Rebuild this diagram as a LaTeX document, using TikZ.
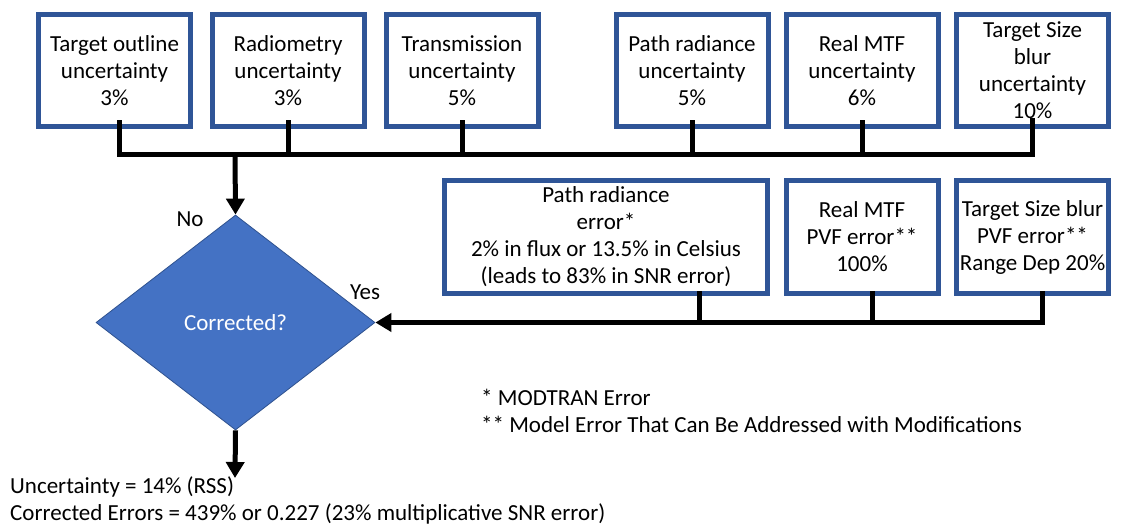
\documentclass[tikz,border=0pt]{standalone}
\usepackage{fontspec}
\setmainfont{Carlito}
\usetikzlibrary{shapes.geometric, arrows.meta}
\definecolor{boxborder}{RGB}{47, 85, 151}
\definecolor{decfill}{RGB}{68, 114, 196}
\definecolor{decborder}{RGB}{47, 82, 143}

\begin{document}
\begin{tikzpicture}[x=1pt, y=-1pt,
    every node/.style={font=\fontsize{23}{27}\selectfont},
    ubox/.style={draw=boxborder, line width=5pt, fill=white, align=center,
        minimum width=152pt, minimum height=112pt, inner sep=0pt},
    bus/.style={line width=5pt},
    arr/.style={line width=5pt, -{Triangle[width=18pt, length=16pt]}},
    plain/.style={anchor=west, inner sep=0pt}]
    \useasboundingbox (0,0) rectangle (1126,531);

    % Uncertainty boxes
    \node[ubox] (t1) at (114.5,70.5) {Target outline\\uncertainty\\3\%};
    \node[ubox] (t2) at (288,70.5) {Radiometry\\uncertainty\\3\%};
    \node[ubox] (t3) at (462,70.5) {Transmission\\uncertainty\\5\%};
    \node[ubox] (t4) at (692,70.5) {Path radiance\\uncertainty\\5\%};
    \node[ubox] (t5) at (862,70.5) {Real MTF\\uncertainty\\6\%};
    \node[ubox] (t6) at (1032.5,70.5) {Target Size\\blur\\uncertainty\\10\%};

    % Error boxes
    \node[ubox, minimum width=323pt, minimum height=113pt] (e1) at (606,237)
        {Path radiance\\error*\\2\% in flux or 13.5\% in Celsius\\(leads to 83\% in SNR error)};
    \node[ubox, minimum height=113pt] (e2) at (862,237) {Real MTF\\PVF error**\\100\%};
    \node[ubox, minimum height=113pt] (e3) at (1032.5,237) {Target Size blur\\PVF error**\\Range Dep 20\%};

    % Decision
    \node[diamond, fill=decfill, draw=decborder, line width=0.8pt, text=white,
        minimum width=279pt, minimum height=215pt, inner sep=0pt] (dec) at (235.5,322.5) {Corrected?};
    \node (no) at (190,219) {No};
    \node (yes) at (365,292) {Yes};

    % Top bus into the decision
    \coordinate (top) at (235,154);
    \draw[bus] ([xshift=5pt, yshift=9pt]t1.south) |- (top) -| ([yshift=11pt]t6.south);
    \foreach \b in {t2,t3,t4,t5}
        \draw[bus] ([yshift=9pt]\b.south) -- (\b.south |- top);
    \draw[arr] (top) -- (dec.north);

    % Error bus into the decision
    \draw[arr] ([xshift=10pt, yshift=5pt]e3.south) |- (dec.east);
    \draw[bus] ([xshift=93pt, yshift=5pt]e1.south) -- ([xshift=93pt]e1.south |- dec.east);
    \draw[bus] ([xshift=10pt, yshift=5pt]e2.south) -- ([xshift=10pt]e2.south |- dec.east);

    % Result
    \coordinate (out) at (235,478);
    \draw[arr] (dec.south) -- (out);
    \node[plain] (res1) at (10,487) {Uncertainty = 14\% (RSS)};
    \node[plain] (res2) at (10,514) {Corrected Errors = 439\% or 0.227 (23\% multiplicative SNR error)};

    % Footnotes
    \node[plain] (fn1) at (481,397) {* MODTRAN Error};
    \node[plain] (fn2) at (481,424) {** Model Error That Can Be Addressed with Modifications};
\end{tikzpicture}
\end{document}
